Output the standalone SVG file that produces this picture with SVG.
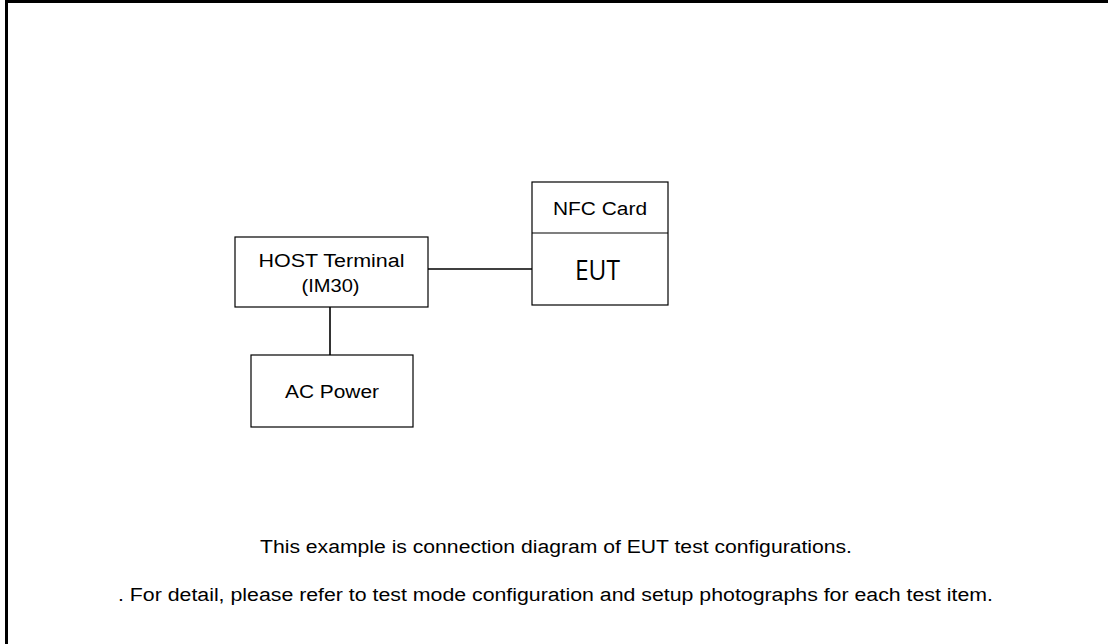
<svg xmlns="http://www.w3.org/2000/svg" width="1108" height="644" viewBox="0 0 1108 644">
  <style>
    .box { fill: #ffffff; stroke: #000000; stroke-width: 1.2; }
    .wire { stroke: #000000; stroke-width: 1.6; fill: none; }
    .lbl { font-family: "Liberation Sans", Arial, sans-serif; font-size: 18px; fill: #000000; text-anchor: middle; }
    .eut { font-family: "Open Sans", "DejaVu Sans", sans-serif; font-size: 27px; fill: #000000; text-anchor: middle; }
    .note { font-family: "Liberation Sans", Arial, sans-serif; font-size: 18px; fill: #000000; text-anchor: middle; }
  </style>
  <rect width="1108" height="644" fill="#ffffff"/>
  <!-- page frame -->
  <path d="M6.5 644 V1.5 H1108" fill="none" stroke="#000000" stroke-width="3"/>

  <g id="connectors">
    <line class="wire" x1="428" y1="269" x2="532" y2="269"/>
    <line class="wire" x1="330" y1="307" x2="330" y2="355"/>
  </g>

  <g id="host">
    <rect class="box" x="235" y="237" width="193" height="70"/>
    <text class="lbl" x="331.5" y="266.5" textLength="146" lengthAdjust="spacingAndGlyphs">HOST Terminal</text>
    <text class="lbl" x="330.5" y="292" textLength="58" lengthAdjust="spacingAndGlyphs">(IM30)</text>
  </g>

  <g id="eut">
    <rect class="box" x="532" y="182" width="136" height="123"/>
    <line class="box" x1="532" y1="233" x2="668" y2="233"/>
    <text class="lbl" x="600" y="215" textLength="94" lengthAdjust="spacingAndGlyphs">NFC Card</text>
    <text class="eut" x="597.5" y="280" textLength="45" lengthAdjust="spacingAndGlyphs">EUT</text>
  </g>

  <g id="power">
    <rect class="box" x="251" y="355" width="162" height="72"/>
    <text class="lbl" x="332" y="397.5" textLength="94" lengthAdjust="spacingAndGlyphs">AC Power</text>
  </g>

  <g id="notes">
    <text class="note" x="556" y="553" textLength="592" lengthAdjust="spacingAndGlyphs">This example is connection diagram of EUT test configurations.</text>
    <text class="note" x="555.5" y="600.5" textLength="875" lengthAdjust="spacingAndGlyphs">. For detail, please refer to test mode configuration and setup photographs for each test item.</text>
  </g>
</svg>
